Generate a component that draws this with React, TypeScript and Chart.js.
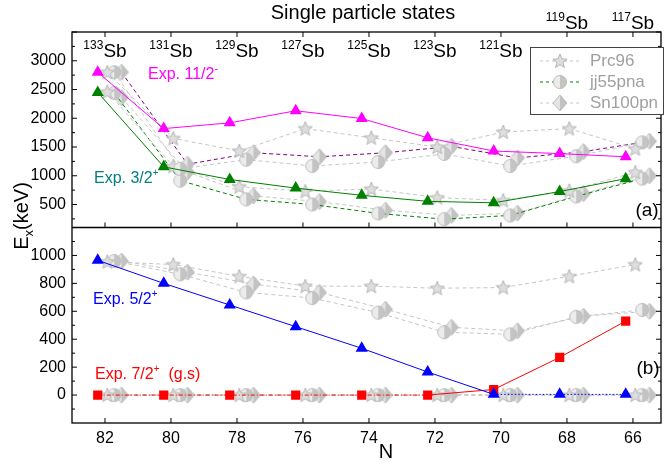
import React, { useEffect, useRef } from 'react';
import { Chart, registerables } from 'chart.js';
Chart.register(...registerables);

// ---------- data ----------
const N = [82, 80, 78, 76, 74, 72, 70, 68, 66];
const isotopes = ['133', '131', '129', '127', '125', '123', '121', '119', '117'];

// panel (a)
const exp112 = [2800, 1820, 1920, 2130, 1995, 1660, 1430, 1385, 1330];
const exp32 = [2450, 1155, 935, 785, 660, 555, 530, 725, 950];
const prc112 = [2800, 1650, 1430, 1820, 1660, 1500, 1760, 1820, 1470];
const jj112 = [2800, 1120, 1280, 1170, 1240, 1380, 1170, 1340, 1580];
const sn112 = [2800, 1200, 1400, 1330, 1400, 1510, 1310, 1420, 1600];
const prc32 = [2460, 1165, 810, 730, 770, 620, 570, 740, 1060];
const jj32 = [2440, 915, 590, 500, 345, 245, 310, 640, 950];
const sn32 = [2360, 1065, 650, 550, 400, 310, 350, 690, 1000];

// panel (b)
const exp52 = [965, 800, 645, 490, 335, 165, 5, 5, 5];
const exp72 = [0, 0, 0, 0, 0, 0, 40, 270, 530];
const prc52 = [955, 935, 850, 780, 780, 765, 770, 850, 935];
const jj52 = [960, 865, 735, 695, 590, 450, 435, 560, 610];
const sn52 = [960, 880, 795, 735, 615, 485, 460, 565, 600];
const prc72 = [0, 0, 0, 0, 0, 0, 0, 0, 0];
const jj72 = [0, 0, 0, 0, 0, 0, 0, 0, 0];
const sn72 = [0, 0, 0, 0, 0, 0, 0, 0, 0];

const yTopTicks = [500, 1000, 1500, 2000, 2500, 3000];
const yBotTicks = [0, 200, 400, 600, 800, 1000];

// ---------- marker images ----------
function makeStar(): HTMLCanvasElement {
  const c = document.createElement('canvas');
  c.width = 16; c.height = 16;
  const g = c.getContext('2d')!;
  g.beginPath();
  for (let i = 0; i < 10; i++) {
    const r = i % 2 === 0 ? 7.5 : 3.2;
    const a = -Math.PI / 2 + (i * Math.PI) / 5;
    const x = 8 + r * Math.cos(a), y = 8.5 + r * Math.sin(a);
    if (i === 0) g.moveTo(x, y); else g.lineTo(x, y);
  }
  g.closePath();
  g.fillStyle = '#dedede';
  g.fill();
  g.strokeStyle = '#b4b4b4';
  g.lineWidth = 1;
  g.stroke();
  return c;
}
function makeCircle(): HTMLCanvasElement {
  const c = document.createElement('canvas');
  c.width = 16; c.height = 16;
  const g = c.getContext('2d')!;
  g.beginPath(); g.arc(8, 8, 6.5, 0, Math.PI * 2);
  g.fillStyle = '#ececec'; g.fill();
  g.beginPath(); g.moveTo(8, 1.5); g.arc(8, 8, 6.5, -Math.PI / 2, Math.PI / 2); g.closePath();
  g.fillStyle = '#c4c4c4'; g.fill();
  g.beginPath(); g.arc(8, 8, 6.5, 0, Math.PI * 2);
  g.strokeStyle = '#bcbcbc'; g.lineWidth = 1; g.stroke();
  return c;
}
function makeDiamond(): HTMLCanvasElement {
  const c = document.createElement('canvas');
  c.width = 16; c.height = 18;
  const g = c.getContext('2d')!;
  g.beginPath(); g.moveTo(8, 1); g.lineTo(15, 9); g.lineTo(8, 17); g.lineTo(1, 9); g.closePath();
  g.fillStyle = '#e4e4e4'; g.fill();
  g.beginPath(); g.moveTo(8, 1); g.lineTo(15, 9); g.lineTo(8, 17); g.closePath();
  g.fillStyle = '#c2c2c2'; g.fill();
  g.beginPath(); g.moveTo(8, 1); g.lineTo(15, 9); g.lineTo(8, 17); g.lineTo(1, 9); g.closePath();
  g.strokeStyle = '#bcbcbc'; g.lineWidth = 1; g.stroke();
  return c;
}

const FONT = "'Liberation Sans', Arial, sans-serif";

export default function App() {
  const ref = useRef<HTMLCanvasElement>(null);
  useEffect(() => {
    const canvas = ref.current!;
    const star = makeStar(), circ = makeCircle(), diam = makeDiamond();
    const pts = (vals: number[], off: number) => vals.map((v, i) => ({ x: N[i] + off, y: v }));
    const GRAY = '#c6c6c6';
    const gray = (label: string, vals: number[], off: number, img: HTMLCanvasElement, axis: string, color = GRAY) => ({
      label, data: pts(vals, off), yAxisID: axis, borderColor: color, borderWidth: 1, borderDash: [4, 3],
      pointStyle: img, pointRadius: 7, backgroundColor: GRAY, fill: false, tension: 0,
    });
    const OS = -0.07, OC = -0.28, OD = -0.5, OE = 0.22;
    const exp = (vals: number[], color: string, axis: string, style: string, extra: any = {}) => ({
      data: pts(vals, OE), yAxisID: axis, borderColor: color, backgroundColor: color, borderWidth: 1,
      pointStyle: style, pointRadius: style === 'rect' ? 6.5 : 7, pointBorderWidth: 0, fill: false, tension: 0, ...extra,
    });
    const datasets: any[] = [
      exp(exp112, '#ff00ff', 'yA', 'triangle'),
      exp(exp32, '#008000', 'yA', 'triangle'),
      exp(exp52, '#0000ff', 'yB', 'triangle', {
        segment: { borderDash: (c: any) => (c.p0DataIndex >= 6 ? [1.5, 2] : undefined) },
      }),
      exp(exp72, '#ff0000', 'yB', 'rect', {
        segment: { borderDash: (c: any) => (c.p0DataIndex < 5 ? [4, 2, 1, 2] : undefined) },
      }),
      gray('p112', prc112, OS, star, 'yA'),
      gray('j112', jj112, OC, circ, 'yA'),
      gray('s112', sn112, OD, diam, 'yA', '#800080'),
      gray('p32', prc32, OS, star, 'yA'),
      gray('j32', jj32, OC, circ, 'yA', '#008000'),
      gray('s32', sn32, OD, diam, 'yA'),
      gray('p52', prc52, OS, star, 'yB'),
      gray('j52', jj52, OC, circ, 'yB'),
      gray('s52', sn52, OD, diam, 'yB'),
      gray('p72', prc72, OS, star, 'yB'),
      gray('j72', jj72, OC, circ, 'yB'),
      gray('s72', sn72, OD, diam, 'yB'),
    ];

    const supText = (ctx: CanvasRenderingContext2D, x: number, y: number, parts: [string, number, number][], color: string, align: 'left' | 'center') => {
      let total = 0;
      for (const [t, s] of parts) { ctx.font = `${s}px ${FONT}`; total += ctx.measureText(t).width; }
      let cx = align === 'center' ? x - total / 2 : x;
      ctx.fillStyle = color;
      ctx.textAlign = 'left';
      ctx.textBaseline = 'alphabetic';
      for (const [t, s, r] of parts) {
        ctx.font = `${s}px ${FONT}`;
        ctx.fillText(t, cx, y - r);
        cx += ctx.measureText(t).width;
      }
    };

    const decor = {
      id: 'decor',
      afterDraw(chart: any) {
        const ctx: CanvasRenderingContext2D = chart.ctx;
        const { left, right, top, bottom } = chart.chartArea;
        const x = chart.scales.x, yA = chart.scales.yA, yB = chart.scales.yB;
        const mid = yA.bottom;
        ctx.save();
        ctx.strokeStyle = '#000';
        ctx.lineWidth = 1.3;
        ctx.strokeRect(left, top, right - left, bottom - top);
        ctx.beginPath(); ctx.moveTo(left, mid); ctx.lineTo(right, mid); ctx.stroke();
        ctx.lineWidth = 1;
        ctx.beginPath();
        for (const n of N) {
          const px = x.getPixelForValue(n);
          ctx.moveTo(px, bottom); ctx.lineTo(px, bottom - 5);
          ctx.moveTo(px, top); ctx.lineTo(px, top + 5);
          ctx.moveTo(px, mid); ctx.lineTo(px, mid - 5);
        }
        for (let v = 250; v <= 3500; v += 250) {
          const py = yA.getPixelForValue(v);
          const len = v % 500 === 0 ? 5 : 3;
          ctx.moveTo(left, py); ctx.lineTo(left + len, py);
          ctx.moveTo(right, py); ctx.lineTo(right - len, py);
        }
        for (let v = -100; v <= 1100; v += 100) {
          const py = yB.getPixelForValue(v);
          const len = v % 200 === 0 ? 5 : 3;
          ctx.moveTo(left, py); ctx.lineTo(left + len, py);
          ctx.moveTo(right, py); ctx.lineTo(right - len, py);
        }
        ctx.stroke();

        ctx.fillStyle = '#000';
        ctx.font = `20px ${FONT}`;
        ctx.textAlign = 'center';
        ctx.textBaseline = 'middle';
        ctx.fillText('Single particle states', 363, 13);
        ctx.fillText('N', 386, 452);

        isotopes.forEach((iso, i) => {
          const px = x.getPixelForValue(N[i]);
          const base = i < 7 ? 57 : 29;
          supText(ctx, px, base, [[iso, 12, 8], ['Sb', 19, 0]], '#000', 'center');
        });

        supText(ctx, 148, 79, [['Exp. 11/2', 16, 0], ['-', 11, 7]], '#ff00ff', 'left');
        supText(ctx, 94, 183, [['Exp. 3/2', 16, 0], ['+', 10, 7]], '#008080', 'left');
        supText(ctx, 93, 304, [['Exp. 5/2', 16, 0], ['+', 10, 7]], '#0000ff', 'left');
        supText(ctx, 95, 379, [['Exp. 7/2', 16, 0], ['+', 10, 7], ['  (g.s)', 16, 0]], '#ff0000', 'left');

        ctx.fillStyle = '#000';
        ctx.font = `19px ${FONT}`;
        ctx.textAlign = 'center';
        ctx.textBaseline = 'middle';
        ctx.fillText('(a)', 647, 211);
        ctx.fillText('(b)', 648, 369);

        ctx.save();
        ctx.translate(28, 216);
        ctx.rotate(-Math.PI / 2);
        supText(ctx, 0, 0, [['E', 20, 0], ['x', 13, -5], ['(keV)', 20, 0]], '#000', 'center');
        ctx.restore();

        ctx.fillStyle = '#fff';
        ctx.fillRect(530, 47, 133, 67);
        ctx.strokeStyle = '#444';
        ctx.lineWidth = 1;
        ctx.strokeRect(530.5, 47.5, 133, 67);
        const rows: [string, HTMLCanvasElement, string][] = [
          ['Prc96', star, GRAY], ['jj55pna', circ, '#008000'], ['Sn100pn', diam, GRAY],
        ];
        rows.forEach(([t, img, col], i) => {
          const ly = 61 + i * 21;
          ctx.strokeStyle = col;
          ctx.setLineDash([3, 3]);
          ctx.beginPath(); ctx.moveTo(540, ly); ctx.lineTo(581, ly); ctx.stroke();
          ctx.setLineDash([]);
          ctx.drawImage(img, 560 - img.width / 2, ly - img.height / 2);
          ctx.fillStyle = '#a0a0a0';
          ctx.font = `17px ${FONT}`;
          ctx.textAlign = 'left';
          ctx.textBaseline = 'middle';
          ctx.fillText(t, 590, ly);
        });
        ctx.restore();
      },
    };

    const tickFont = { family: FONT, size: 16 };
    const chart = new Chart(canvas, {
      type: 'line',
      data: { datasets },
      options: {
        animation: false,
        responsive: false,
        devicePixelRatio: 1,
        layout: { padding: { top: 32, right: 4, left: 0, bottom: 0 } },
        plugins: { legend: { display: false }, tooltip: { enabled: false } },
        scales: {
          x: {
            type: 'linear', reverse: true, min: 65.15, max: 83,
            grid: { display: false, drawTicks: false }, border: { display: false },
            ticks: { font: tickFont, color: '#000', padding: 6, maxRotation: 0, autoSkip: false, callback: (v: any) => String(v) },
            afterBuildTicks: (s: any) => { s.ticks = N.map((v) => ({ value: v })); },
            afterFit: (s: any) => { s.height = 45; },
          },
          yA: {
            type: 'linear', position: 'left', stack: 'v', stackWeight: 1, weight: 2, min: 100, max: 3500,
            grid: { display: false, drawTicks: false }, border: { display: false },
            ticks: { font: tickFont, color: '#000', padding: 6, autoSkip: false, callback: (v: any) => String(v) },
            afterBuildTicks: (s: any) => { s.ticks = yTopTicks.map((v) => ({ value: v })); },
            afterFit: (s: any) => { s.width = 72; },
          },
          yB: {
            type: 'linear', position: 'left', stack: 'v', stackWeight: 1, weight: 1, min: -200, max: 1200,
            grid: { display: false, drawTicks: false }, border: { display: false },
            ticks: { font: tickFont, color: '#000', padding: 6, autoSkip: false, callback: (v: any) => String(v) },
            afterBuildTicks: (s: any) => { s.ticks = yBotTicks.map((v) => ({ value: v })); },
            afterFit: (s: any) => { s.width = 72; },
          },
        },
      } as any,
      plugins: [decor],
    });
    return () => chart.destroy();
  }, []);
  return (
    <div style={{ position: 'absolute', left: 0, top: 0, width: 669, height: 468, background: '#fff' }}>
      <canvas ref={ref} width={669} height={468} style={{ display: 'block' }} />
    </div>
  );
}
